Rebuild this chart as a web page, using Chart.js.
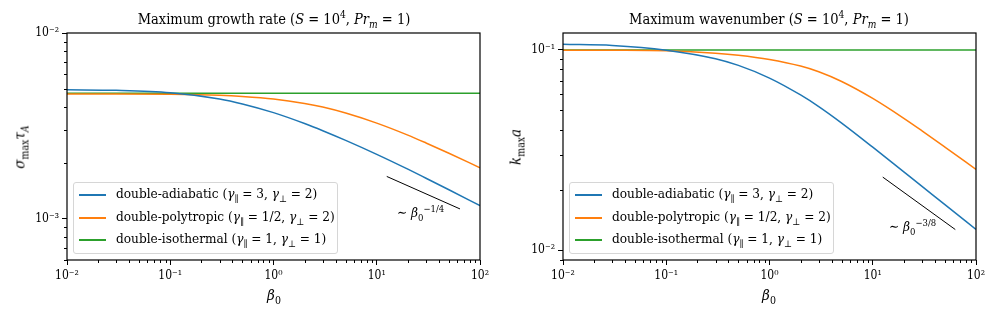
<!DOCTYPE html>
<html>
<head>
<meta charset="utf-8">
<script src="https://cdn.jsdelivr.net/npm/chart.js@4.4.1/dist/chart.umd.min.js"></script>
<style>
  html, body { margin: 0; padding: 0; background: #fff; }
  body { width: 996px; height: 318px; position: relative; overflow: hidden;
         font-family: "DejaVu Serif Condensed", "DejaVu Serif", serif; font-stretch: condensed; color: #000; }
  .panel { position: absolute; top: 0; width: 498px; height: 318px; }
  .txt { position: absolute; white-space: nowrap; line-height: 1; }
  .title { font-size: 14.5px; transform: translateX(-50%); }
  .xlab { font-size: 15px; transform: translateX(-50%); }
  .ylab { font-size: 15px; transform: translate(-50%, -50%) rotate(-90deg); }
  sup, sub { font-size: 70%; line-height: 0; }
  i { font-style: italic; }
  .legend { position: absolute; width: 265px; height: 72px; box-sizing: border-box;
            border: 1px solid #d6d6d6; border-radius: 3px; background: rgba(255,255,255,0.85); }
  .row { position: absolute; left: 5px; height: 16px; font-size: 13.5px; white-space: nowrap; line-height: 1; }
  .row span.swatch { position: absolute; left: 0; top: 7px; width: 27px; height: 2px; }
  .row span.lbl { position: absolute; left: 37px; top: 0; }
  .note { font-size: 13.5px; }
</style>
</head>
<body>
<div class="panel" style="left:0"><canvas id="chartGrowth"></canvas></div>
<div class="panel" style="left:496px"><canvas id="chartWave"></canvas></div>

<div class="txt title" style="left:274px; top:12px">Maximum growth rate (<i>S</i> = 10<sup>4</sup>, <i>Pr<sub>m</sub></i> = 1)</div>
<div class="txt title" style="left:769px; top:12px">Maximum wavenumber (<i>S</i> = 10<sup>4</sup>, <i>Pr<sub>m</sub></i> = 1)</div>

<div class="txt ylab" style="left:20px; top:147px"><i>σ</i><sub>max</sub><i>τ</i><sub><i>A</i></sub></div>
<div class="txt ylab" style="left:516px; top:147px"><i>k</i><sub>max</sub><i>a</i></div>

<div class="txt xlab" style="left:274px; top:288px"><i>β</i><sub>0</sub></div>
<div class="txt xlab" style="left:769px; top:288px"><i>β</i><sub>0</sub></div>

<div class="txt note" style="left:397px; top:206px">∼ <i>β</i><sub>0</sub><sup>−1/4</sup></div>
<div class="txt note" style="left:889px; top:220px">∼ <i>β</i><sub>0</sub><sup>−3/8</sup></div>

<div class="legend" style="left:73px; top:182px" id="legendGrowth"></div>
<div class="legend" style="left:569px; top:182px" id="legendWave"></div>

<script>
// beta_0 sample points
const beta = [0.01, 0.03, 0.1, 0.3, 0.5, 1, 2, 3, 5, 10, 20, 30, 50, 100];

// growth rate sigma_max * tau_A
const growthAdiabatic  = [4.95e-3, 4.913e-3, 4.767e-3, 4.414e-3, 4.152e-3, 3.728e-3, 3.257e-3, 2.980e-3, 2.642e-3, 2.222e-3, 1.849e-3, 1.653e-3, 1.433e-3, 1.176e-3];
const growthPolytropic = [4.70e-3, 4.70e-3, 4.683e-3, 4.622e-3, 4.557e-3, 4.416e-3, 4.178e-3, 3.995e-3, 3.709e-3, 3.274e-3, 2.821e-3, 2.560e-3, 2.253e-3, 1.881e-3];
const growthIsothermal = [4.74e-3, 4.74e-3, 4.74e-3, 4.74e-3, 4.74e-3, 4.74e-3, 4.74e-3, 4.74e-3, 4.74e-3, 4.74e-3, 4.74e-3, 4.74e-3, 4.74e-3, 4.74e-3];

// wavenumber k_max * a
const waveAdiabatic  = [0.1067, 0.10532, 0.09977, 0.0904, 0.08372, 0.0724, 0.05961, 0.05215, 0.04315, 0.03271, 0.02462, 0.02085, 0.0169, 0.01273];
const wavePolytropic = [0.0997, 0.09959, 0.09899, 0.09632, 0.09412, 0.08966, 0.08308, 0.07784, 0.0696, 0.05729, 0.04559, 0.03949, 0.03277, 0.02535];
const waveIsothermal = [0.1, 0.1, 0.1, 0.1, 0.1, 0.1, 0.1, 0.1, 0.1, 0.1, 0.1, 0.1, 0.1, 0.1];

// power-law guide segments
const growthGuideBeta = [12.5, 64];
const growthGuide     = [1.69e-3, 1.13e-3];
const waveGuideBeta   = [12.5, 63];
const waveGuide       = [0.0232, 0.0127];

// axis ticks
const xMajor = [0.01, 0.1, 1, 10, 100];
const xTickLabels = ['10⁻²', '10⁻¹', '10⁰', '10¹', '10²'];
const growthYMajor = [0.001, 0.01];
const growthYLabels = ['10⁻³', '10⁻²'];
const waveYMajor = [0.01, 0.1];
const waveYLabels = ['10⁻²', '10⁻¹'];

const seriesNames = [
  'double-adiabatic (<i>γ</i><sub>∥</sub> = 3, <i>γ</i><sub>⊥</sub> = 2)',
  'double-polytropic (<i>γ</i><sub>∥</sub> = 1/2, <i>γ</i><sub>⊥</sub> = 2)',
  'double-isothermal (<i>γ</i><sub>∥</sub> = 1, <i>γ</i><sub>⊥</sub> = 1)'
];
const colors = ['#1f77b4', '#ff7f0e', '#2ca02c'];
const tickFont = { family: 'DejaVu Serif Condensed, DejaVu Serif', size: 12 };

const minorBetween = (lo, hi) => {
  const out = [];
  for (let e = Math.floor(Math.log10(lo)); e <= Math.ceil(Math.log10(hi)); e++) {
    for (let m = 2; m <= 9; m++) {
      const v = m * Math.pow(10, e);
      if (v > lo && v < hi) out.push(v);
    }
  }
  return out;
};

// frame + minor ticks, matplotlib style
const framePlugin = {
  id: 'frame',
  afterDraw(chart) {
    const { ctx, chartArea: a, scales } = chart;
    ctx.save();
    ctx.strokeStyle = '#000';
    ctx.lineWidth = 1;
    ctx.beginPath();
    minorBetween(scales.x.min, scales.x.max).forEach(v => {
      const px = Math.round(scales.x.getPixelForValue(v)) + 0.5;
      ctx.moveTo(px, a.bottom); ctx.lineTo(px, a.bottom + 3);
    });
    minorBetween(scales.y.min, scales.y.max).forEach(v => {
      const py = Math.round(scales.y.getPixelForValue(v)) + 0.5;
      ctx.moveTo(a.left, py); ctx.lineTo(a.left - 3, py);
    });
    ctx.stroke();
    ctx.lineWidth = 1.2;
    ctx.strokeRect(a.left, a.top, a.right - a.left, a.bottom - a.top);
    ctx.restore();
  }
};

const toPoints = (xs, ys) => xs.map((x, i) => ({ x: x, y: ys[i] }));

const makeChart = (id, curves, guideX, guideY, yMin, yMax, yMajor, yLabels) => {
  const datasets = curves.map((ys, i) => ({
    label: seriesNames[i],
    data: toPoints(beta, ys),
    borderColor: colors[i],
    borderWidth: 1.5,
    pointRadius: 0,
    cubicInterpolationMode: 'monotone',
    fill: false
  }));
  datasets.push({
    label: 'guide',
    data: toPoints(guideX, guideY),
    borderColor: '#000',
    borderWidth: 1,
    pointRadius: 0,
    fill: false
  });

  return new Chart(document.getElementById(id), {
    type: 'line',
    data: { datasets: datasets },
    options: {
      responsive: true,
      maintainAspectRatio: false,
      animation: false,
      layout: { padding: { left: 0, right: 18, top: 33, bottom: 0 } },
      plugins: { legend: { display: false }, tooltip: { enabled: false } },
      scales: {
        x: {
          type: 'logarithmic',
          min: 0.01, max: 100,
          afterBuildTicks: (s) => { s.ticks = xMajor.map(v => ({ value: v })); },
          afterFit: (s) => { s.height = 58; },
          border: { display: false },
          grid: { drawOnChartArea: false, color: '#000', tickLength: 5, tickWidth: 1 },
          ticks: {
            autoSkip: false, maxRotation: 0, padding: 4, color: '#000',
            font: tickFont,
            callback: (v) => xTickLabels[xMajor.indexOf(v)]
          }
        },
        y: {
          type: 'logarithmic',
          min: yMin, max: yMax,
          afterBuildTicks: (s) => { s.ticks = yMajor.map(v => ({ value: v })); },
          afterFit: (s) => { s.width = 67; },
          border: { display: false },
          grid: { drawOnChartArea: false, color: '#000', tickLength: 5, tickWidth: 1 },
          ticks: {
            autoSkip: false, padding: 3, color: '#000',
            font: tickFont,
            callback: (v) => yLabels[yMajor.indexOf(v)]
          }
        }
      }
    },
    plugins: [framePlugin]
  });
};

const buildLegend = (id) => {
  const box = document.getElementById(id);
  seriesNames.forEach((name, i) => {
    const row = document.createElement('div');
    row.className = 'row';
    row.style.top = Math.round(4 + i * 22.5) + 'px';
    row.innerHTML = '<span class="swatch" style="background:' + colors[i] + '"></span><span class="lbl">' + name + '</span>';
    box.appendChild(row);
  });
};

makeChart('chartGrowth', [growthAdiabatic, growthPolytropic, growthIsothermal],
  growthGuideBeta, growthGuide, 6e-4, 1e-2, growthYMajor, growthYLabels);
makeChart('chartWave', [waveAdiabatic, wavePolytropic, waveIsothermal],
  waveGuideBeta, waveGuide, 0.00895, 0.1215, waveYMajor, waveYLabels);
buildLegend('legendGrowth');
buildLegend('legendWave');
</script>
</body>
</html>
